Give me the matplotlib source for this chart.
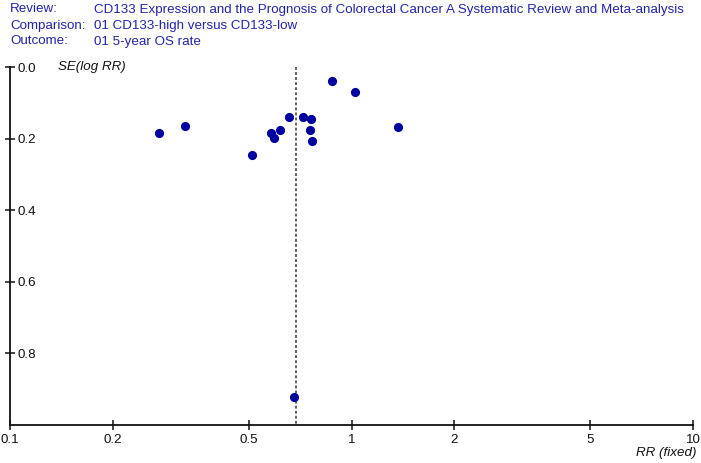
import matplotlib
matplotlib.use("Agg")
import matplotlib.pyplot as plt
from matplotlib.ticker import FixedLocator, FixedFormatter, NullLocator

plt.rcParams['font.family'] = ['Liberation Sans', 'DejaVu Sans']

# Data
rr = [0.274, 0.326, 0.511, 0.581, 0.592, 0.618, 0.658, 0.720, 0.763, 0.756,
      0.768, 0.877, 1.026, 1.366, 0.680]
se = [0.184, 0.164, 0.246, 0.184, 0.199, 0.177, 0.140, 0.140, 0.145, 0.177,
      0.208, 0.038, 0.069, 0.168, 0.921]
pooled_rr = 0.69

x_ticks = [0.1, 0.2, 0.5, 1, 2, 5, 10]
x_tick_labels = ["0.1", "0.2", "0.5", "1", "2", "5", "10"]
y_ticks = [0.0, 0.2, 0.4, 0.6, 0.8]
y_tick_labels = ["0.0", "0.2", "0.4", "0.6", "0.8"]

header_keys = ["Review:", "Comparison:", "Outcome:"]
header_vals = ["CD133 Expression and the Prognosis of Colorectal Cancer A Systematic Review and Meta-analysis",
               "01 CD133-high versus CD133-low",
               "01 5-year OS rate"]

W, H = 701, 463
fig = plt.figure(figsize=(W / 100, H / 100), dpi=100)
left, right, top, bottom = 10, 693, 67, 425
ax = fig.add_axes([left / W, (H - bottom) / H, (right - left) / W, (bottom - top) / H])

ax.set_xscale('log')
ax.set_xlim(0.1, 10)
ax.set_ylim(1.0, 0.0)

ax.plot(rr, se, 'o', color='#0000a0', markersize=6.6, markeredgewidth=0, clip_on=False, zorder=3)
ax.plot([pooled_rr, pooled_rr], [0.0, 1.0], color='#555555', linestyle=(0, (1.6, 1.2)),
        linewidth=1.3, zorder=2)

for s in ['top', 'right']:
    ax.spines[s].set_visible(False)
for s in ['left', 'bottom']:
    ax.spines[s].set_linewidth(1.3)
    ax.spines[s].set_color('#111111')

ax.xaxis.set_major_locator(FixedLocator(x_ticks))
ax.xaxis.set_major_formatter(FixedFormatter(x_tick_labels))
ax.xaxis.set_minor_locator(NullLocator())
ax.yaxis.set_major_locator(FixedLocator(y_ticks))
ax.yaxis.set_major_formatter(FixedFormatter(y_tick_labels))

ax.tick_params(axis='x', direction='inout', length=7, width=1.1, pad=3, labelsize=9.6, colors='#111111')
ax.tick_params(axis='y', direction='inout', length=7, width=1.1, pad=-9, labelsize=9.6, colors='#111111')
for lbl in ax.get_yticklabels():
    lbl.set_horizontalalignment('left')

ax.text(0.070, 1.0, "SE(log RR)", transform=ax.transAxes, fontsize=9.6, style='italic',
        ha='left', va='center', color='#111111')
fig.text(697 / W, 1 - 453 / H, "RR (fixed)", fontsize=9.6, style='italic',
         ha='right', va='center', color='#111111')

hc = '#2323a8'
for i, (k, v) in enumerate(zip(header_keys, header_vals)):
    y = 1 - (9.5 + 16 * i) / H
    fig.text(10 / W, y, k, fontsize=9.6, color=hc, ha='left', va='center')
    fig.text(94 / W, y, v, fontsize=9.6, color=hc, ha='left', va='center')

fig.savefig("out.png", dpi=100)
